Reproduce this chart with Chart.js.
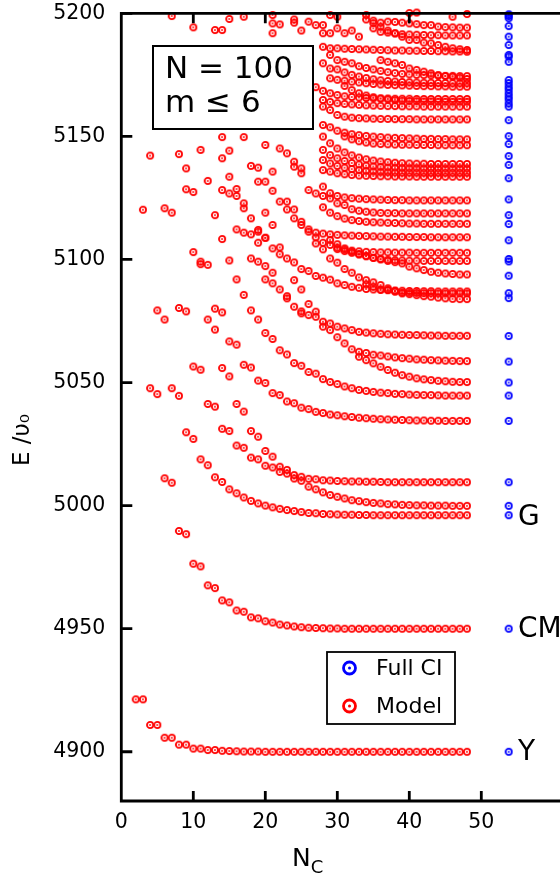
<!DOCTYPE html>
<html><head><meta charset="utf-8">
<script src="https://cdn.jsdelivr.net/npm/chart.js@4.4.1/dist/chart.umd.min.js"></script>
<style>
html,body{margin:0;padding:0;background:#fff;overflow:hidden;}
canvas{display:block;}
</style></head>
<body>
<canvas id="c" width="560" height="877" style="width:560px;height:877px"></canvas>
<script>
// ---------------- data ----------------
const xTicks = [0, 10, 20, 30, 40, 50];
const xTopTicks = [10, 20, 30, 40];
const yTicks = [4900, 4950, 5000, 5050, 5100, 5150, 5200];
const xRange = [0, 60.93];
const yRange = [4880, 5200];

// Full CI energies (all at one N_C position)
const fullCI_NC = 53.8;
const fullCI_E = [5199.6,5198.9,5198.0,5194.8,5190.5,5187.1,5183.1,5182.4,5180.3,5172.9,5171.6,5170.2,5169.0,5167.5,5166.2,5165.0,5163.4,5162.1,5156.6,5150.1,5146.9,5142.0,5138.4,5133.0,5124.4,5118.0,5114.4,5107.8,5100.2,5099.2,5093.4,5086.3,5084.3,5068.9,5058.5,5050.0,5044.7,5034.4,5009.5,4999.9,4996.1,4950.0,4900.0];

// Model levels: [first N_C, energies for N_C = first, first+1, ... ] (null = not shown)
const lvY = [2, [4921.3,4921.3,4910.9,4910.9,4905.7,4905.7,4902.9,4902.9,4901.3,4901.3,4900.7,4900.7,4900.4,4900.3,4900.2,4900.1,4900.1,4900.1,
  4900,4900,4900,4900,4900,4900,4900,4900,4900,4900,4900,4900,4900,4900,4900,4900,4900,4900,4900,4900,4900,4900,4900,4900,4900,4900,4900,4900,4900]];
const lvCM = [3, [5120.2,5047.7,5045.3,5011.1,5009.3,4989.7,4988.4,4976.4,4975.3,4967.6,4966.5,4961.5,4960.7,4957.4,4956.9,4954.6,4954.2,4953.0,4952.5,4951.7,4951.3,4950.9,4950.6,4950.4,4950.3,4950.2,4950.1,4950.1,
  4950,4950,4950,4950,4950,4950,4950,4950,4950,4950,4950,4950,4950,4950,4950,4950,4950,4950]];
const lvG1 = [4, [5142.2,5079.3,5075.6,5047.7,5044.6,5029.8,5027.1,5018.8,5016.4,5011.5,5009.6,5006.6,5005.0,5003.3,5001.9,5000.9,5000.0,4999.3,4998.7,4998.2,4997.8,4997.4,4997.0,4996.9,4996.6,4996.5,4996.4,4996.3,4996.3,4996.2,4996.2,
  4996.1,4996.1,4996.1,4996.1,4996.1,4996.1,4996.1,4996.1,4996.1,4996.1,4996.1,4996.1,4996.1,4996.1]];
const lvG2 = [6, [5120.8,5119.0,5080.3,5078.9,5056.5,5055.2,5041.3,5040.2,5031.2,5030.3,5024.4,5023.5,5019.5,5018.8,5016.2,5015.5,5013.7,5013.0,5011.0,5010.1,5007.7,5006.6,5005.4,5004.3,5003.6,5002.9,5002.2,5001.8,5001.4,5001.1,5000.9,5000.6,5000.5,5000.3,5000.2,5000.1,5000.1,5000.0,5000.0,5000.0,4999.9,4999.9,4999.9]];
const lv5010 = [8, [5142.8,5128.5,5103.0,5098.1,5075.6,5071.5,5055.9,5052.5,5041.3,5038.2,5030.3,5028.0,5022.2,5019.9,5015.8,5014.5,5012.4,5011.7,5010.9,5010.7,5010.3,5010.2,5010.0,5009.9,5009.8,5009.8,5009.7,5009.7,5009.6,
  5009.5,5009.5,5009.5,5009.5,5009.5,5009.5,5009.5,5009.5,5009.5,5009.5,5009.5,5009.5]];
const lv5034 = [9, [5137.0,5127.4,5099.1,5097.8,5080.0,5078.5,5066.7,5065.4,5057.2,5056.1,5050.8,5049.8,5045.7,5044.9,5042.3,5041.6,5039.8,5039.2,5038.1,5037.6,5037.0,5036.7,5036.3,5036.0,5035.7,5035.5,5035.3,5035.1,5035.0,5034.9,5034.8,5034.7,5034.6,5034.6,5034.5,5034.5,5034.4,5034.4,5034.4,5034.4]];
const lv5045 = [11, [5144.5,5131.9,5118.0,5108.3,5099.6,5091.9,5085.6,5079.3,5075.6,5070.1,5067.7,5063.1,5061.4,5057.9,5056.8,5054.3,5053.6,5051.4,5050.2,5049.4,5048.4,5047.7,5047.0,5046.6,5046.2,5045.9,5045.7,5045.4,5045.3,5045.1,5045.0,5044.9,5044.9,5044.8,5044.7,5044.7,5044.7,5044.7]];
const lv5050 = [33, [5060.5,5059.1,5057.8,5056.4,5055.1,5054.0,5053.0,5052.4,5051.7,5051.3,5051.0,5050.7,5050.5,5050.3,5050.2,5050.2]];
const lv5059 = [20, [5091.9,5090.3,null,5084.2,5080.8,5078.1,5077.4,5076.7,5072.7,5071.3,5068.4,5065.9,5063.5,5062.5,5062.0,5061.3,5061.0,5060.6,5060.2,5059.9,5059.7,5059.4,5059.3,5059.1,5059.0,5058.9,5058.8,5058.7,5058.7]];
const lv5069 = [24, [5091.6,5087.8,5081.9,5078.8,5074.7,5074.0,5072.7,5072.0,5071.3,5070.6,5070.3,5070.0,5069.8,5069.6,5069.5,5069.4,5069.3,5069.3,5069.2,5069.1,5069.1,5069.0,5069.0,5069.0,5069.0]];
const lv5084a = [18, [5100.4,5099.1,5097.3,5094.6,5087.8,5085.1]];
const lv5084 = [27, [5106.5,5104.1,5100.4,5098.7,5096.1,5094.6,5092.7,5091.6,5090.7,5089.6,5088.3,5087.2,5086.2,5085.9,5085.5,5085.1,5084.9,5084.5,5084.2,5084.0,5083.9,5083.9]];
const lv5086 = [34, [5089.9,5088.9,5087.8,5087.6,5086.9,5086.6,5086.5,5086.4,5086.3,5086.3,5086.2,5086.2,5086.2,5086.2,5086.2]];
const lv5087 = [14, [5141.1,5133.6,5128.6,5122.8,5116.7,5112.0,5108.8,5104.5,5102.1,5100.4,5098.8,5096.1,5095.3,5093.3,5092.6,5091.8,5090.3,5089.6,5088.9,5088.5,5088.0,5087.8,5087.6,5087.5,5087.4,5087.3,5087.2,5087.2,5087.1,5087.1,5087.0,5087.0,5087.0,5087.0,5087.0]];
const lv5094 = [30, [5104.2,5103.4,5102.7,5102.0,5101.3,5100.6,5100.0,5099.4,5098.9,5098.4,5097.1,5096.4,5095.7,5095.0,5094.6,5094.3,5094.1,5093.9,5093.9]];
const lv5099 = [29, [5107.9,5106.2,5104.5,5103.2,5102.2,5101.4,5100.7,5100.2,5099.9,5099.7,5099.6,5099.5,5099.5,5099.4,5099.4,5099.4,5099.4,5099.4,5099.4,5099.4]];
const lv5103 = [23, [5120.3,5120.3,5115.3,5112.2,5109.0,5106.8,5105.9,5104.8,5104.0,5103.6,5103.3,5103.1,5103.0,5102.9,5102.9,5102.8,5102.8,5102.8,5102.7,5102.7,5102.7,5102.7,5102.7,5102.7,5102.7,5102.7]];
const lv5109 = [22, [5123.5,5123.5,5116.7,5114.0,5111.3,5110.9,5110.5,5110.2,5110.0,5109.8,5109.7,5109.6,5109.5,5109.4,5109.3,5109.3,5109.2,5109.2,5109.1,5109.1,5109.1,5109.0,5109.0,5109.0,5109.0,5109.0,5109.0]];
const lv5114 = [28, [5121.2,5119.0,5117.6,5116.6,5116.0,5115.6,5115.3,5115.1,5115.0,5114.9,5114.8,5114.7,5114.6,5114.6,5114.5,5114.5,5114.5,5114.5,5114.5,5114.5,5114.5]];
const lv5119 = [19, [5131.6,5131.6,5127.9,null,null,null,null,5128.2,5126.8,5125.8,5124.8,5122.8,5122.1,5120.4,5119.8,5119.4,5119.1,5118.9,5118.8,5118.8,5118.7,5118.7,5118.7,5118.7,5118.7,5118.7,5118.7,5118.7,5118.7,5118.7]];
const lv5124 = [28, [5129.6,5126.9,5125.8,5125.2,5124.9,5124.7,5124.5,5124.4,5124.3,5124.2,5124.1,5124.1,5124.0,5124.0,5124.0,5124.0,5124.0,5124.0,5124.0,5124.0,5124.0]];
const lv5134 = [18, [5138.0,5137.3,null,5135.7,null,null,null,null,null,null,5136.3,5135.7,5135.0,5134.6,5134.3,5134.1,5134.0,5133.9,5133.8,5133.8,5133.7,5133.7,5133.7,5133.6,5133.6,5133.6,5133.6,5133.6,5133.6,5133.6,5133.6]];
const lv5135 = [24, [5137.7,5135.0,null,null,5140.4,5139.0,5138.0,5137.3,5136.7,5136.3,5136.0,5135.8,5135.6,5135.5,5135.4,5135.3,5135.3,5135.3,5135.2,5135.2,5135.2,5135.2,5135.2,5135.2,5135.2]];
const lv5137 = [20, [5146.5,null,5145.1,5143.1,5139.7,5137.0,null,null,5144.5,5142.4,5141.1,5140.0,5139.2,5138.6,5138.1,5137.8,5137.6,5137.4,5137.3,5137.2,5137.1,5137.1,5137.0,5137.0,5137.0,5137.0,5137.0,5137.0,5137.0]];
const lv5139 = [28, [5149.9,5147.2,5145.1,5143.5,5142.3,5141.4,5140.7,5140.2,5139.8,5139.5,5139.3,5139.1,5139.0,5138.9,5138.9,5138.8,5138.8,5138.8,5138.8,5138.8,5138.8]];
const lv5146 = [31, [5150.0,5148.8,5148.0,5147.5,5147.1,5146.9,5146.8,5146.7,5146.6,5146.6,5146.5,5146.5,5146.5,5146.4,5146.4,5146.4,5146.4,5146.4]];
const lv5149 = [28, [5154.6,5153.7,5152.3,5151.5,5150.9,5150.5,5150.2,5149.9,5149.7,5149.5,5149.4,5149.3,5149.2,5149.1,5149.0,5149.0,5148.9,5148.9,5148.8,5148.8,5148.8]];
const lv5157 = [28, [5162.1,5160.7,5158.7,5158.0,5157.6,5157.4,5157.3,5157.2,5157.1,5157.1,5157.0,5157.0,5157.0,5156.9,5156.9,5156.9,5156.9,5156.9,5156.9,5156.9,5156.9]];
const lv5162 = [28, [5164.8,5164.0,5163.5,5163.2,5163.0,5162.8,5162.6,5162.5,5162.4,5162.3,5162.3,5162.2,5162.2,5162.2,5162.1,5162.1,5162.1,5162.1,5162.1,5162.1,5162.1]];
const lv5164 = [31, [5170.5,5168.8,5167.5,5166.6,5165.9,5165.4,5165.0,5164.7,5164.5,5164.4,5164.3,5164.2,5164.2,5164.1,5164.1,5164.1,5164.1,5164.1]];
const lv5165 = [26, [5172.0,5170.0,5168.5,5167.5,5166.8,5166.3,5166.0,5165.8,5165.6,5165.5,5165.4,5165.4,5165.3,5165.3,5165.3,5165.2,5165.2,5165.2,5165.2,5165.2,5165.2,5165.2,5165.2]];
const lv5170 = [29, [5173.6,5173.0,5172.6,5172.2,5171.9,5171.6,5171.3,5171.1,5170.9,5170.8,5170.7,5170.6,5170.5,5170.4,5170.4,5170.3,5170.3,5170.2,5170.2,5170.2]];
const lv5172 = [28, [5179.7,5177.6,5177.2,5176.0,5175.0,5174.3,5173.7,5173.2,5172.8,5172.5,5172.3,5172.1,5172.0,5171.9,5171.8,5171.8,5171.7,5171.7,5171.6,5171.6,5171.6]];
const lv5173 = [36, [5181.0,5180.3,5179.7,5179.0,5177.6,5177.0,5176.3,5175.6,5174.9,5174.5,5174.2,5173.8,5173.3]];
const lv5175 = [29, [5183.1,5181.0,5180.3,5179.7,5178.5,5177.8,5177.2,5176.6,5176.1,5175.7,5175.4,5175.2,5175.0,5174.9,5174.8,5174.7,5174.6,5174.6,5174.5,5174.5]];
const lv5184 = [28, [5186.4,5185.8,5185.8,5185.6,5185.5,5185.4,5185.3,5185.2,5185.1,5185.0,5184.9,5184.9,5184.8,5184.8,5184.7,5184.7,5184.6,5184.6,5184.5,5184.5,5184.4]];
const lv5185 = [34, [5197.5,5196.0,5194.5,5193.0,5191.8,5190.5,5189.2,5189.2,5188.1,5187.8,5187.1,5186.4,5185.8,5185.4,5185.1]];
const lv5191 = [35, [5193.9,5192.5,5192.2,5191.9,5191.5,5191.4,5191.3,5191.2,5191.1,5191.1,5191.0,5191.0,5191.0,5191.0]];
const lv5194 = [35, [5197.0,5196.2,5196.6,5196.5,5196.2,5195.9,5195.6,5195.2,5195.2,5194.6,5194.4,5194.3,5194.2,5194.2]];
const lv5200 = [40, [5200.1,5200.3,null,null,null,null,5198.6,null,5199.7]];
const lvLeftC = [14, [5128.2,5126.8,5125.8,5120.8,5110.2,5106.8]];
const lvLeftD = [16, [5112.2,5110.9,null,5111.3,5108.8]];
const lvLeftE = [20, [5119.0,5114.0,5104.9]];

// isolated model points
const extraNC = [7,10,13,14,15,17,21,21,21,22,24,24,25,26,27,28,28,29,29,30,30,31,32,33,34,14,15,17,25];
const extraE = [5198.9,5194.3,5193.2,5193.2,5197.7,5198.6,5199.3,5195.9,5191.9,5195.5,5197.5,5196.2,5193.0,5196.6,5195.2,5195.2,5191.9,5191.9,5199.3,5198.6,5193.9,5191.9,5193.0,5190.5,5199.3,5149.7,5144.2,5149.7,5078.9];

const modelLevels = [lvY, lvCM, lvG1, lvG2, lv5010, lv5034, lv5045, lv5050, lv5059, lv5069, lv5084a, lv5084, lv5086, lv5087,
  lv5094, lv5099, lv5103, lv5109, lv5114, lv5119, lv5124, lv5134, lv5135, lv5137, lv5139, lv5146, lv5149, lv5157, lv5162,
  lv5164, lv5165, lv5170, lv5172, lv5173, lv5175, lv5184, lv5185, lv5191, lv5194, lv5200, lvLeftC, lvLeftD, lvLeftE];

const stateNames = ['Y', 'CM', 'G'];
const stateE = [4900, 4950, 4995.5];
const stateNC = 55.1;

const boxLines = ['N = 100', 'm \u2264 6'];
const yTitle = 'E /\u03c5\u2080';
const xTitleMain = 'N', xTitleSub = 'C';

// ---------------- chart ----------------
function ring(color, r, lw, dot) {
  const s = Math.ceil(2 * (r + lw)) + 2;
  const c = document.createElement('canvas');
  c.width = s; c.height = s;
  const g = c.getContext('2d');
  g.strokeStyle = color; g.lineWidth = lw;
  g.beginPath(); g.arc(s / 2, s / 2, r, 0, 2 * Math.PI); g.stroke();
  g.fillStyle = color;
  g.beginPath(); g.arc(s / 2, s / 2, dot, 0, 2 * Math.PI); g.fill();
  return c;
}
const RED = '#ff0000', BLUE = '#0000ff';
const redRing = ring(RED, 3.1, 1.8, 0.95);
const blueRing = ring(BLUE, 3.1, 1.8, 0.95);

const modelPts = [];
modelLevels.forEach(([n0, es]) => es.forEach((e, i) => { if (e !== null) modelPts.push({ x: n0 + i, y: e }); }));
extraNC.forEach((n, i) => modelPts.push({ x: n, y: extraE[i] }));
const ciPts = fullCI_E.map(e => ({ x: fullCI_NC, y: e }));

const FONT = "'DejaVu Sans', sans-serif";

const decor = {
  id: 'decor',
  afterDraw(chart) {
    const ctx = chart.ctx, a = chart.chartArea;
    const xs = chart.scales.x, ys = chart.scales.y;
    ctx.save();
    ctx.strokeStyle = '#000'; ctx.lineWidth = 2.8; ctx.lineCap = 'butt';
    ctx.beginPath();
    ctx.moveTo(560, a.top); ctx.lineTo(a.left, a.top); ctx.lineTo(a.left, a.bottom); ctx.lineTo(560, a.bottom);
    ctx.stroke();
    ctx.beginPath();
    yTicks.forEach(v => { const p = ys.getPixelForValue(v); ctx.moveTo(a.left, p); ctx.lineTo(a.left + 11, p); });
    xTicks.forEach(v => { if (v === 0) return; const p = xs.getPixelForValue(v);
      ctx.moveTo(p, a.bottom); ctx.lineTo(p, a.bottom - 10); });
    xTopTicks.forEach(v => { const p = xs.getPixelForValue(v);
      ctx.moveTo(p, a.top); ctx.lineTo(p, a.top + 10); });
    ctx.stroke();

    // annotation box
    ctx.fillStyle = '#fff'; ctx.lineWidth = 2;
    ctx.fillRect(153, 46, 160, 83); ctx.strokeRect(153, 46, 160, 83);
    ctx.fillStyle = '#000'; ctx.font = '31px ' + FONT; ctx.textBaseline = 'alphabetic'; ctx.textAlign = 'left';
    ctx.fillText(boxLines[0], 165, 78);
    ctx.fillText(boxLines[1], 165, 112);

    // legend
    ctx.fillStyle = '#fff'; ctx.lineWidth = 1.8;
    ctx.fillRect(327, 652, 128, 72); ctx.strokeRect(327, 652, 128, 72);
    const ds = chart.data.datasets;
    const legY = [668, 706];
    ds.forEach((d, i) => {
      ctx.strokeStyle = d.borderColor; ctx.fillStyle = d.borderColor; ctx.lineWidth = 2.8;
      ctx.beginPath(); ctx.arc(349.5, legY[i], 6, 0, 2 * Math.PI); ctx.stroke();
      ctx.beginPath(); ctx.arc(349.5, legY[i], 1.5, 0, 2 * Math.PI); ctx.fill();
      ctx.fillStyle = '#000'; ctx.font = '22px ' + FONT; ctx.textBaseline = 'middle';
      ctx.fillText(d.label, 376, legY[i] + 1);
    });

    // state labels
    ctx.fillStyle = '#000'; ctx.font = '28px ' + FONT; ctx.textBaseline = 'middle'; ctx.textAlign = 'left';
    stateNames.forEach((s, i) => ctx.fillText(s, xs.getPixelForValue(stateNC), ys.getPixelForValue(stateE[i]) + 1));

    // y title (rotated)
    ctx.save();
    ctx.translate(23, 440); ctx.rotate(-Math.PI / 2);
    ctx.font = '23px ' + FONT; ctx.textAlign = 'center'; ctx.textBaseline = 'middle';
    ctx.fillText(yTitle, 0, 0);
    ctx.restore();

    // x title with subscript
    ctx.textAlign = 'left'; ctx.textBaseline = 'alphabetic';
    ctx.font = '25px ' + FONT;
    const wN = ctx.measureText(xTitleMain).width;
    const x0 = 292;
    ctx.fillText(xTitleMain, x0, 866);
    ctx.font = '18px ' + FONT;
    ctx.fillText(xTitleSub, x0 + wN, 873);
    ctx.restore();
  }
};

new Chart(document.getElementById('c'), {
  type: 'scatter',
  data: { datasets: [
    { label: 'Full CI', data: ciPts, pointStyle: blueRing, borderColor: BLUE, backgroundColor: BLUE, clip: false },
    { label: 'Model', data: modelPts, pointStyle: redRing, borderColor: RED, backgroundColor: RED, clip: false }
  ]},
  options: {
    responsive: false, animation: false, devicePixelRatio: 1,
    layout: { autoPadding: false, padding: { top: 13.3, right: 0, left: 0, bottom: 0 } },
    plugins: { legend: { display: false }, tooltip: { enabled: false } },
    elements: { point: { radius: 4, hoverRadius: 4 } },
    scales: {
      x: { type: 'linear', min: xRange[0], max: xRange[1],
        afterBuildTicks: s => { s.ticks = xTicks.map(v => ({ value: v })); },
        afterFit: s => { s.height = 76; s.paddingLeft = 0; s.paddingRight = 0; },
        grid: { display: false, drawTicks: false }, border: { display: false },
        ticks: { color: '#000', font: { family: 'DejaVu Sans', size: 20.5 }, padding: 9, maxRotation: 0, autoSkip: false,
          callback: v => String(v) } },
      y: { type: 'linear', min: yRange[0], max: yRange[1],
        afterBuildTicks: s => { s.ticks = yTicks.map(v => ({ value: v })); },
        afterFit: s => { s.width = 121.3; s.paddingTop = 0; s.paddingBottom = 0; },
        grid: { display: false, drawTicks: false }, border: { display: false },
        ticks: { color: '#000', font: { family: 'DejaVu Sans', size: 20.5 }, padding: 16, autoSkip: false,
          callback: v => String(v) } }
    }
  },
  plugins: [decor]
});
</script>
</body></html>
